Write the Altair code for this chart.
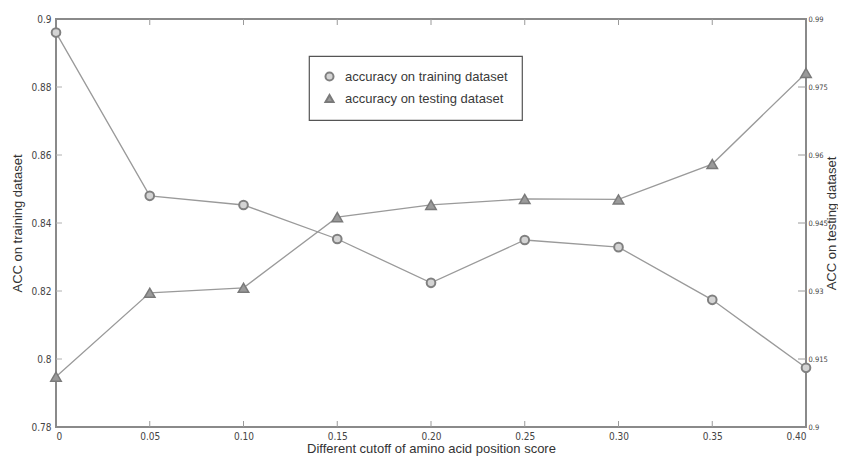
import altair as alt
import pandas as pd

# ---- data ----
cutoffs = [0.0, 0.05, 0.10, 0.15, 0.20, 0.25, 0.30, 0.35, 0.40]
train_acc = [0.896, 0.848, 0.8453, 0.8353, 0.8224, 0.835, 0.8329, 0.8174, 0.7974]
test_acc = [0.9111, 0.9296, 0.9307, 0.9463, 0.9490, 0.9503, 0.9502, 0.9580, 0.9781]
x_ticks = [0.05, 0.10, 0.15, 0.20, 0.25, 0.30, 0.35]
left_ticks = [0.80, 0.82, 0.84, 0.86, 0.88]
right_ticks = [0.915, 0.93, 0.945, 0.96, 0.975]
left_labels = [0.78, 0.80, 0.82, 0.84, 0.86, 0.88, 0.90]
right_labels = [0.9, 0.915, 0.93, 0.945, 0.96, 0.975, 0.99]
series = ["accuracy on training dataset", "accuracy on testing dataset"]

train_df = pd.DataFrame({"cutoff": cutoffs, "acc": train_acc, "series": series[0]})
test_df = pd.DataFrame({"cutoff": cutoffs, "acc": test_acc, "series": series[1]})
xt_df = pd.DataFrame({"cutoff": x_ticks})
lt_df = pd.DataFrame({"acc": left_ticks})
rt_df = pd.DataFrame({"acc": right_ticks})

W, H = 750, 408
LINE = "#9a9a9a"
TICK_FONT = "Liberation Sans Narrow, DejaVu Sans Condensed, sans-serif"
TEXT_FONT = "Liberation Sans, Arial, sans-serif"

xscale = alt.Scale(domain=[0, 0.4], nice=False, zero=False)
yl = alt.Scale(domain=[0.78, 0.9], nice=False, zero=False)
yr = alt.Scale(domain=[0.9, 0.99], nice=False, zero=False)

shape_scale = alt.Scale(domain=series, range=["circle", "triangle-up"])
fill_scale = alt.Scale(domain=series, range=["#d4d4d4", "#9a9a9a"])
stroke_scale = alt.Scale(domain=series, range=["#808080", "#7a7a7a"])

x_axis = alt.Axis(
    title="Different cutoff of amino acid position score",
    values=cutoffs,
    labelExpr="datum.value == 0 ? '0' : format(datum.value, '.2f')",
    ticks=False, domain=False, grid=False,
    labelPadding=4, titlePadding=1,
)

left_axis = alt.Axis(
    title="ACC on training dataset", values=left_labels, orient="left",
    labelExpr="format(datum.value, '~g')",
    ticks=False, domain=False, grid=False, labelPadding=5, titlePadding=6,
)
right_axis = alt.Axis(
    title="ACC on testing dataset", values=right_labels, orient="right",
    labelExpr="format(datum.value, '~g')", labelFontSize=7.5,
    ticks=False, domain=False, grid=False, labelPadding=2,
    titleAngle=270, titleBaseline="middle", titleAlign="center",
    titleX=25.5, titleY=H / 2,
)

X = alt.X("cutoff:Q", scale=xscale, axis=x_axis)
YL = alt.Y("acc:Q", scale=yl, axis=left_axis)
YR = alt.Y("acc:Q", scale=yr, axis=right_axis)

# training (left axis)
top_ticks = alt.Chart(xt_df).mark_rule(color="#9a9a9a", strokeWidth=1).encode(
    x=X, y=alt.value(0), y2=alt.value(6)
)
bot_ticks = alt.Chart(xt_df).mark_rule(color="#9a9a9a", strokeWidth=1).encode(
    x=X, y=alt.value(H - 6), y2=alt.value(H)
)
l_ticks = alt.Chart(lt_df).mark_rule(color="#b0b0b0", strokeWidth=1).encode(
    y=YL, x=alt.value(0), x2=alt.value(6)
)
tr_line = alt.Chart(train_df).mark_line(color=LINE, strokeWidth=1.3).encode(x=X, y=YL)
tr_pts = alt.Chart(train_df).mark_point(filled=True, size=75, strokeWidth=2, opacity=1).encode(
    x=X, y=YL,
    shape=alt.Shape("series:N", scale=shape_scale, title=None),
    fill=alt.Fill("series:N", scale=fill_scale, title=None),
    stroke=alt.Stroke("series:N", scale=stroke_scale, title=None),
)
train_layer = alt.layer(tr_line, tr_pts, l_ticks, top_ticks, bot_ticks)

# testing (right axis)
r_ticks = alt.Chart(rt_df).mark_rule(color="#9a9a9a", strokeWidth=1).encode(
    y=YR, x=alt.value(W - 8), x2=alt.value(W)
)
te_line = alt.Chart(test_df).mark_line(color=LINE, strokeWidth=1.3).encode(x=X, y=YR)
te_pts = alt.Chart(test_df).mark_point(filled=True, size=110, strokeWidth=1.5, opacity=1).encode(
    x=X, y=YR,
    shape=alt.Shape("series:N", scale=shape_scale, title=None),
    fill=alt.Fill("series:N", scale=fill_scale, title=None),
    stroke=alt.Stroke("series:N", scale=stroke_scale, title=None),
)
test_layer = alt.layer(te_line, te_pts, r_ticks)

chart = (
    alt.layer(train_layer, test_layer)
    .resolve_scale(y="independent")
    .properties(
        width=W, height=H,
        autosize=alt.AutoSizeParams(type="none"),
        padding={"left": 48, "top": 11, "right": 32, "bottom": 29},
    )
    .configure_view(stroke="#8a8a8a", strokeWidth=2)
    .configure_axis(
        labelFont=TICK_FONT, labelFontSize=10, labelColor="#444",
        titleFont=TEXT_FONT, titleFontSize=13, titleFontWeight="normal", titleColor="#333",
    )
    .configure_legend(
        orient="none", legendX=253, legendY=37,
        fillColor="white", strokeColor="#555", strokeWidth=1.2,
        padding=14, rowPadding=6, symbolSize=65, symbolStrokeWidth=2,
        labelFont=TEXT_FONT, labelFontSize=13, labelColor="#3a3a3a", labelOffset=9,
        labelLimit=400,
    )
)

chart.save("out.html", embed_options={"renderer": "svg", "actions": False})
